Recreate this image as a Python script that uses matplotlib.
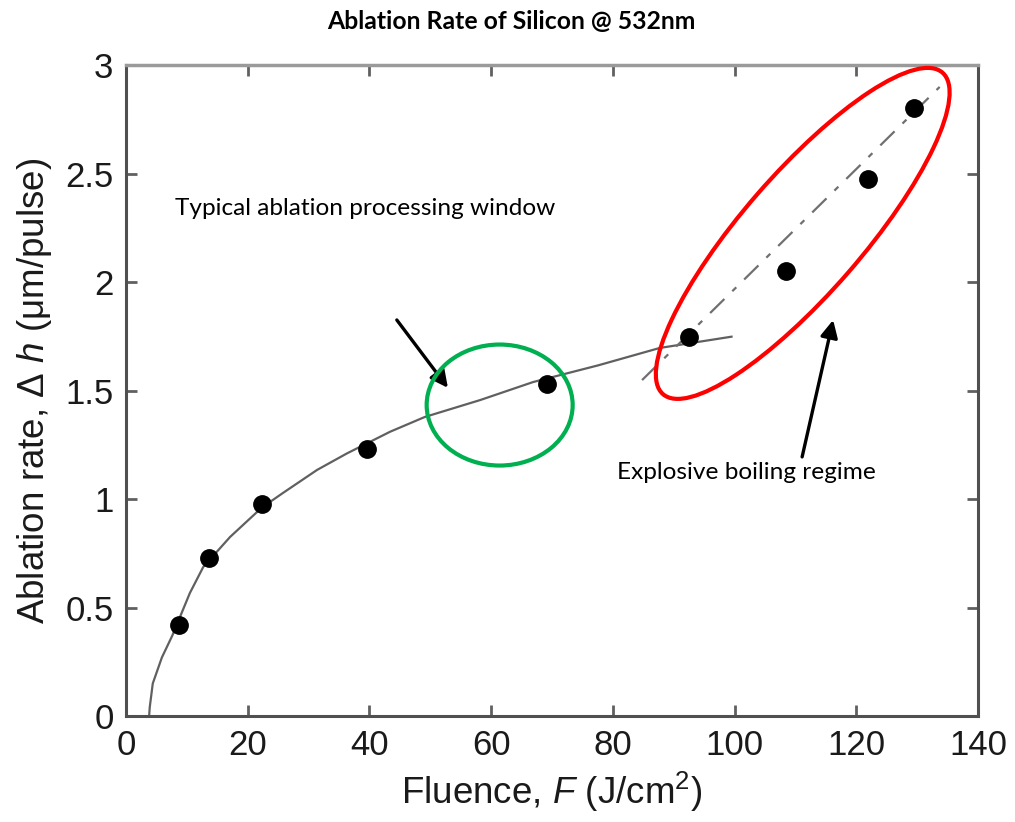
import numpy as np
import matplotlib
matplotlib.use("Agg")
import matplotlib.pyplot as plt
from matplotlib.patches import Ellipse
from matplotlib.transforms import Affine2D

# measured points (fluence J/cm^2, ablation rate um/pulse)
fluence = [8.7, 13.6, 22.3, 39.6, 69.2, 92.5, 108.4, 121.9, 129.5]
rate = [0.42, 0.73, 0.975, 1.23, 1.53, 1.745, 2.05, 2.475, 2.80]

# logarithmic fit curve
fit_F = [3.8, 3.9, 4.4, 5.9, 7.6, 10.5, 12.7, 17.1, 22.3, 25.8, 31.4, 36.3,
         43.4, 49.1, 58.2, 66.9, 77.6, 87.7, 99.5]
fit_h = [0.0, 0.04, 0.15, 0.27, 0.37, 0.567, 0.687, 0.825, 0.96, 1.028, 1.134,
         1.21, 1.31, 1.378, 1.456, 1.539, 1.616, 1.696, 1.748]

# linear trend for explosive boiling regime
lin_F = [84.8, 133.7]
lin_h = [1.548, 2.899]

W, H = 1015, 822
plt.rcParams['font.family'] = ['Liberation Sans', 'DejaVu Sans']
plt.rcParams['mathtext.fontset'] = 'custom'
plt.rcParams['mathtext.rm'] = 'Liberation Sans'
plt.rcParams['mathtext.it'] = 'Liberation Sans:italic'

fig = plt.figure(figsize=(W / 100, H / 100), dpi=100)
ax = fig.add_axes([126 / W, 1 - 716 / H, (978 - 126) / W, (716 - 65) / H])

ax.plot(fit_F, fit_h, color='#606060', lw=1.6, zorder=2)
ax.plot(lin_F, lin_h, color='#707070', lw=1.6, dashes=(9, 5, 2.5, 5), zorder=2)
ax.plot(fluence, rate, 'o', color='black', ms=12.5, zorder=3)

ax.set_xlim(0, 140)
ax.set_ylim(0, 3)
ax.set_xticks(np.arange(0, 141, 20))
ax.set_yticks([0, 0.5, 1, 1.5, 2, 2.5, 3])
ax.set_yticklabels(['0', '0.5', '1', '1.5', '2', '2.5', '3'])
ax.tick_params(direction='in', length=8, width=2, color='#606060',
               labelsize=25, labelcolor='#1a1a1a', top=True, right=True, pad=9)
for side in ['left', 'bottom', 'right']:
    ax.spines[side].set_color('#505050')
    ax.spines[side].set_linewidth(2.2)
ax.spines['top'].set_color('#9a9a9a')
ax.spines['top'].set_linewidth(2.5)

ax.set_xlabel(r"Fluence, $\mathit{F}$ (J/cm$^{\mathrm{2}}$)", fontsize=26.5,
              color='#1a1a1a', labelpad=6)
ax.set_ylabel(r"Ablation rate, Δ $\mathit{h}$ (μm/pulse)", fontsize=26.5,
              color='#1a1a1a', labelpad=8)

fig.text(0.504, 1 - 22 / H, "Ablation Rate of Silicon @ 532nm", family='Lato',
         fontweight='bold', fontsize=17.8, ha='center', va='center')

ax.text(8.05, 2.341, "Typical ablation processing window", family='Lato',
        fontsize=17.6, ha='left', va='center')
ax.text(80.7, 1.12, "Explosive boiling regime", family='Lato',
        fontsize=17.6, ha='left', va='center')

arrow = dict(arrowstyle='-|>', color='black', lw=2.4, mutation_scale=26,
             shrinkA=0, shrinkB=0)
ax.annotate("", xy=(52.9, 1.512), xytext=(44.5, 1.825), arrowprops=arrow)
ax.annotate("", xy=(116.2, 1.825), xytext=(111.1, 1.194), arrowprops=arrow)

# highlight ellipses, sized in pixels around data-space centres
fig.canvas.draw()
for cx, cy, w, h, ang, col in [(61.4, 1.433, 146, 121, 0, '#00b050'),
                               (111.2, 2.224, 426, 120, 49, '#ff0000')]:
    px, py = ax.transData.transform((cx, cy))
    e = Ellipse((0, 0), w, h, angle=ang, fill=False, edgecolor=col, lw=3,
                transform=Affine2D().translate(px, py), zorder=4)
    e.set_clip_on(False)
    fig.add_artist(e)

fig.savefig("out.png", dpi=100, facecolor='white')
